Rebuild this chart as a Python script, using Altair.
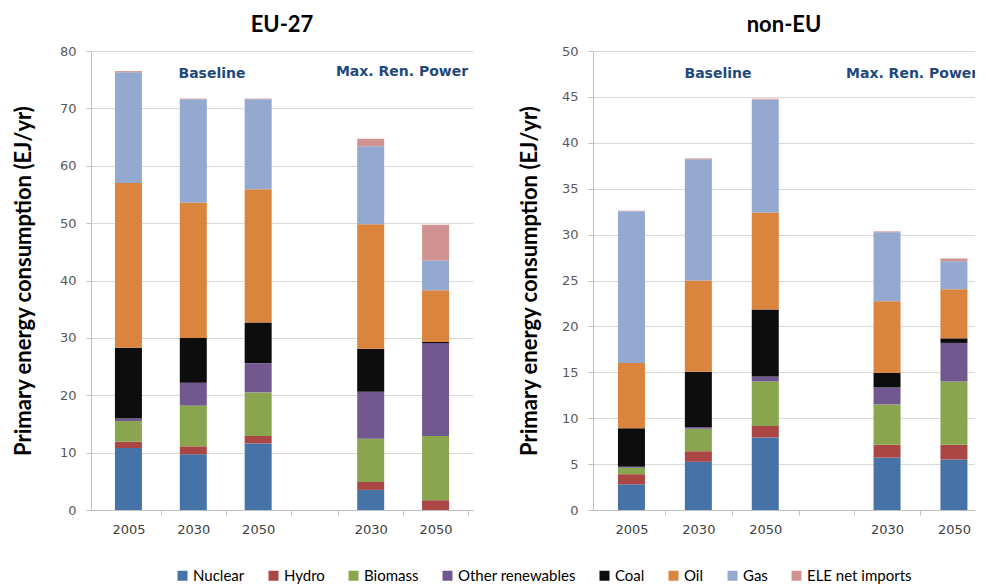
import altair as alt
import pandas as pd

sources = ["Nuclear", "Hydro", "Biomass", "Other renewables", "Coal", "Oil", "Gas", "ELE net imports"]
colors = ["#4572A7", "#AA4643", "#89A54E", "#71588F", "#0D0D0D", "#DB843D", "#93A9CF", "#D19392"]
scenarios = ["Baseline", "Baseline", "Baseline", "Max. Ren. Power", "Max. Ren. Power"]
years = ["2005", "2030", "2050", "2030", "2050"]

eu_nuclear = [10.8, 9.7, 11.6, 3.5, 0.0]
eu_hydro = [1.1, 1.4, 1.3, 1.4, 1.7]
eu_biomass = [3.6, 7.1, 7.6, 7.5, 11.2]
eu_other = [0.5, 4.0, 5.1, 8.2, 16.2]
eu_coal = [12.3, 7.8, 7.1, 7.5, 0.2]
eu_oil = [28.7, 23.6, 23.2, 21.7, 9.0]
eu_gas = [19.3, 18.0, 15.7, 13.6, 5.2]
eu_ele = [0.2, 0.1, 0.1, 1.3, 6.2]

ne_nuclear = [2.8, 5.25, 7.9, 5.7, 5.5]
ne_hydro = [1.1, 1.15, 1.25, 1.4, 1.6]
ne_biomass = [0.7, 2.45, 4.85, 4.4, 6.9]
ne_other = [0.1, 0.2, 0.55, 1.85, 4.2]
ne_coal = [4.2, 6.0, 7.3, 1.6, 0.5]
ne_oil = [7.1, 9.95, 10.55, 7.8, 5.35]
ne_gas = [16.55, 13.2, 12.3, 7.5, 3.05]
ne_ele = [0.05, 0.1, 0.1, 0.1, 0.3]

eu_series = [eu_nuclear, eu_hydro, eu_biomass, eu_other, eu_coal, eu_oil, eu_gas, eu_ele]
ne_series = [ne_nuclear, ne_hydro, ne_biomass, ne_other, ne_coal, ne_oil, ne_gas, ne_ele]

annotations = ["Baseline", "Max. Ren. Power"]
y_title = "Primary energy consumption (EJ/yr)"


def make_df(series):
    rows = []
    for k, (src, vals) in enumerate(zip(sources, series)):
        for i, v in enumerate(vals):
            rows.append({"slot": i, "scenario": scenarios[i], "year": years[i],
                         "source": src, "k": k, "value": v})
    return pd.DataFrame(rows)


def panel(series, title, ymax, step, width, gap, xmax, title_pad, ann_pos):
    centers = [round(i + 0.5 + (gap if i >= 3 else 0), 4) for i in range(5)]
    bounds = [round(b, 4) for b in [1, 2, 3, 3 + gap, 4 + gap, 5 + gap] if b <= xmax + 1e-9]
    values = sorted(centers + bounds)
    label_expr = " : ".join(f"datum.value == {c} ? '{y}'" for c, y in zip(centers, years)) + " : ''"
    tick_test = "indexof([" + ",".join(str(c) for c in centers) + "], datum.value) >= 0"

    base = alt.Chart(make_df(series)).transform_calculate(
        pos=f"datum.slot + 0.5 + (datum.slot >= 3 ? {gap} : 0)"
    )
    bars = base.mark_bar(size=27).encode(
        x=alt.X("pos:Q", scale=alt.Scale(domain=[0, xmax], nice=False, zero=False),
                axis=alt.Axis(values=values, labelExpr=label_expr, title=None, grid=False,
                              tickOpacity={"condition": {"test": tick_test, "value": 0}, "value": 1},
                              tickSize=5, labelPadding=8, labelFont="DejaVu Sans",
                              labelFontSize=13, labelColor="#404040", domainColor="#BFBFBF",
                              tickColor="#BFBFBF", labelFlush=False)),
        y=alt.Y("value:Q", stack="zero", scale=alt.Scale(domain=[0, ymax], nice=False),
                axis=alt.Axis(values=list(range(0, ymax + 1, step)), title=y_title,
                              titleFont="Lato", titleFontSize=22, titleFontWeight="bold",
                              titleColor="black", titlePadding=title_pad, labelFont="DejaVu Sans",
                              labelFontSize=13, labelColor="#595959", labelPadding=10,
                              tickSize=5, tickColor="#BFBFBF", domainColor="#BFBFBF",
                              gridColor="#D9D9D9")),
        color=alt.Color("source:N", scale=alt.Scale(domain=sources, range=colors),
                        legend=alt.Legend(title=" ", titleOrient="left", titlePadding=84)),
        order=alt.Order("k:Q", sort="ascending"),
    )
    layers = [bars]
    for text, (px, py, align) in zip(annotations, ann_pos):
        layers.append(
            alt.Chart(pd.DataFrame({"t": [text]})).mark_text(
                font="DejaVu Sans", fontSize=14, fontWeight="bold", color="#1F497D",
                align=align, baseline="middle", clip=True
            ).encode(text="t:N", x=alt.value(px), y=alt.value(py))
        )
    return alt.layer(*layers).properties(width=width, height=459, title=title)


left = panel(eu_series, "EU-27", 80, 10, 382, 0.735, 5.735, 24,
             [(121, 23, "center"), (311, 21, "center")])
right = panel(ne_series, "non-EU", 50, 5, 382, 0.82, 5.56, 20,
              [(125, 23, "center"), (253, 23, "left")])

chart = alt.hconcat(left, right, spacing=45).resolve_scale(
    y="independent", x="independent", color="shared"
).properties(
    padding={"left": 4, "top": 6, "right": 0, "bottom": 0}
).configure_view(stroke=None).configure_title(
    font="Lato", fontSize=22, fontWeight="bold", color="black", offset=8, anchor="middle"
).configure_legend(
    orient="bottom", direction="horizontal", columns=8, offset=32,
    symbolType="square", symbolSize=100, symbolStrokeWidth=0, labelFont="Lato",
    labelFontSize=15, labelColor="black", labelOffset=3, columnPadding=21,
    titleFont="Lato", titleFontSize=15
)

chart.save("out.html", embed_options={"renderer": "svg", "actions": False})
